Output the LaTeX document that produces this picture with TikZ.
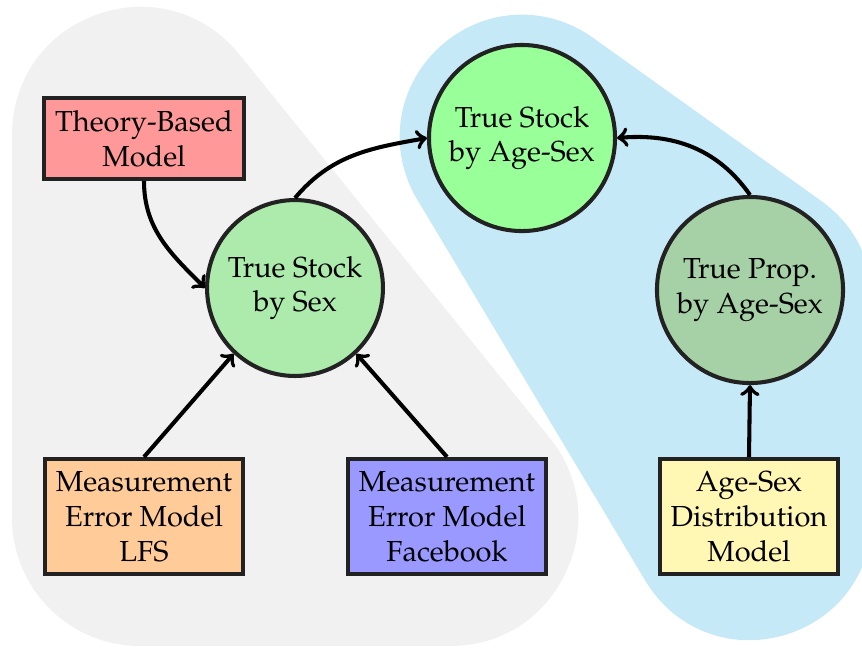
\documentclass[tikz,border=0pt]{standalone}
\usepackage[T1]{fontenc}
\usepackage{mathpazo}
\definecolor{bggray}{HTML}{F1F1F1}
\definecolor{bgblue}{HTML}{C6E9F8}
\definecolor{theoryfill}{HTML}{FF9999}
\definecolor{sexfill}{HTML}{ADEBAD}
\definecolor{agesexfill}{HTML}{99FF99}
\definecolor{propfill}{HTML}{A6D0A6}
\definecolor{lfsfill}{HTML}{FFCC99}
\definecolor{fbfill}{HTML}{9999FF}
\definecolor{distfill}{HTML}{FFF7B3}
\definecolor{edgegray}{HTML}{222222}
\begin{document}
\begin{tikzpicture}[x=0.345pt,y=0.345pt,
  modelbox/.style={rectangle, draw=edgegray, line width=1.4pt, align=center, inner sep=0pt},
  latent/.style={circle, draw=edgegray, line width=1.4pt, align=center, inner sep=0pt},
  link/.style={->, line width=1.4pt, black},
  hull/.style={line width=#1, line join=round}]
\useasboundingbox (0,0) rectangle (862,-648);
\clip (0,0) rectangle (862,-648);

% group backgrounds: rounded hulls around the two parts of the model
\filldraw[bggray, hull=88.3pt] (140,-135) -- (140,-518) -- (450,-518) -- cycle;
\filldraw[bgblue, hull=84.2pt] (522,-137) -- (750,-300) -- (750,-518) -- cycle;

% nodes
\node[modelbox, fill=theoryfill, minimum width=69pt, minimum height=28pt] (theory) at (144,-138.5) {Theory-Based\\Model};
\node[latent, fill=sexfill, minimum size=60.7pt] (sex) at (295,-288) {True Stock\\by Sex};
\node[latent, fill=agesexfill, minimum size=64.2pt] (agesex) at (522,-138) {True Stock\\by Age-Sex};
\node[latent, fill=propfill, minimum size=64.2pt] (prop) at (750,-290) {True Prop.\\by Age-Sex};
\node[modelbox, fill=lfsfill, minimum width=68.3pt, minimum height=39.7pt] (lfs) at (144,-516.5) {Measurement\\Error Model\\LFS};
\node[modelbox, fill=fbfill, minimum width=68.3pt, minimum height=39.7pt] (fb) at (447,-516.5) {Measurement\\Error Model\\Facebook};
\node[modelbox, fill=distfill, minimum width=61.4pt, minimum height=39.7pt] (dist) at (749,-516.5) {Age-Sex\\Distribution\\Model};

% connectors
\draw[link] (theory.south) to[out=-90, in=135] (sex.west);
\draw[link] (sex.north) to[out=50, in=190] (agesex.west);
\draw[link] (prop.north) to[out=125, in=5] (agesex.east);
\draw[link] (lfs.north) -- (sex.227);
\draw[link] (fb.north) -- (sex.313);
\draw[link] (dist.north) -- (prop.south);
\end{tikzpicture}
\end{document}
